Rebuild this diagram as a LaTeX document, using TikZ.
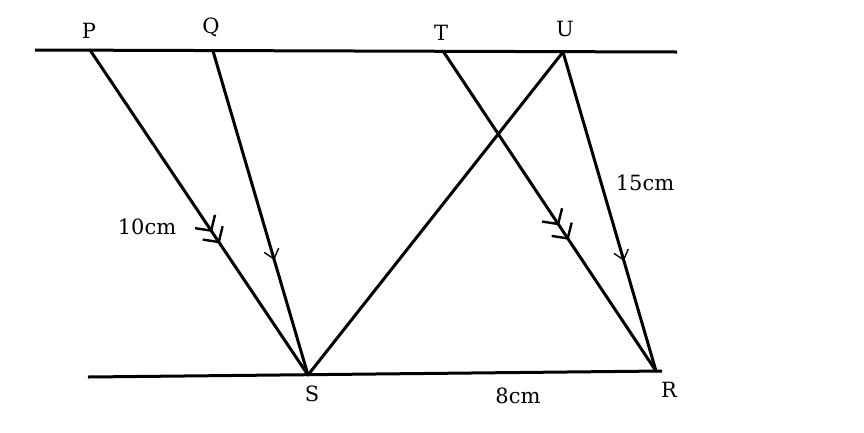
\documentclass[tikz,border=0pt]{standalone}
\usepackage{fontspec}
\setmainfont{DejaVu Serif}
\usetikzlibrary{arrows.meta,decorations.markings}
\tikzset{
  seg/.style={line width=3pt, line cap=round},
  base/.style={line width=3pt},
  lbl/.style={font=\fontsize{21}{21}\selectfont, inner sep=0pt},
  dbl/.style 2 args={postaction={decorate,decoration={markings,
     mark=at position #1 with {\arrow[line width=2.4pt]{Straight Barb[length=11pt,width=24pt]}},
     mark=at position #2 with {\arrow[line width=2.4pt]{Straight Barb[length=11pt,width=24pt]}}}}},
  sgl/.style={postaction={decorate,decoration={markings,
     mark=at position #1 with {\arrow[line width=1.4pt]{Straight Barb[length=9pt,width=15pt]}}}}}
}
\begin{document}
\begin{tikzpicture}[x=1pt,y=-1pt]
\useasboundingbox (0,0) rectangle (864,432);
\fill[white] (0,0) rectangle (864,432);
% base lines
\coordinate (TL) at (35,50);
\coordinate (TRt) at (677,52);
\coordinate (BL) at (88,377);
\coordinate (BRt) at (662,371);
\coordinate (P) at (90,50);
\coordinate (Q) at (213,51);
\coordinate (T) at (443,51);
\coordinate (U) at (563,52);
\coordinate (S) at (308,375);
\coordinate (R) at (656,371);
\draw[base] (TL) -- (TRt);
\draw[base] (BL) -- (BRt);
% transversals
\draw[seg, dbl={0.56}{0.595}] (P) -- (S);
\draw[seg, sgl=0.645] (Q) -- (S);
\draw[seg, dbl={0.545}{0.59}] (T) -- (R);
\draw[seg, sgl=0.655] (U) -- (R);
\draw[seg] (U) -- (S);
% labels
\node[lbl] (lP) at (89,31) {P};
\node[lbl] (lQ) at (211,27) {Q};
\node[lbl] (lT) at (441,33) {T};
\node[lbl] (lU) at (565,29) {U};
\node[lbl] (lS) at (312,394) {S};
\node[lbl] (lR) at (669,390) {R};
\node[lbl] (l10) at (147,227) {10cm};
\node[lbl] (l15) at (645,183) {15cm};
\node[lbl] (l8) at (518,396) {8cm};
\end{tikzpicture}
\end{document}
